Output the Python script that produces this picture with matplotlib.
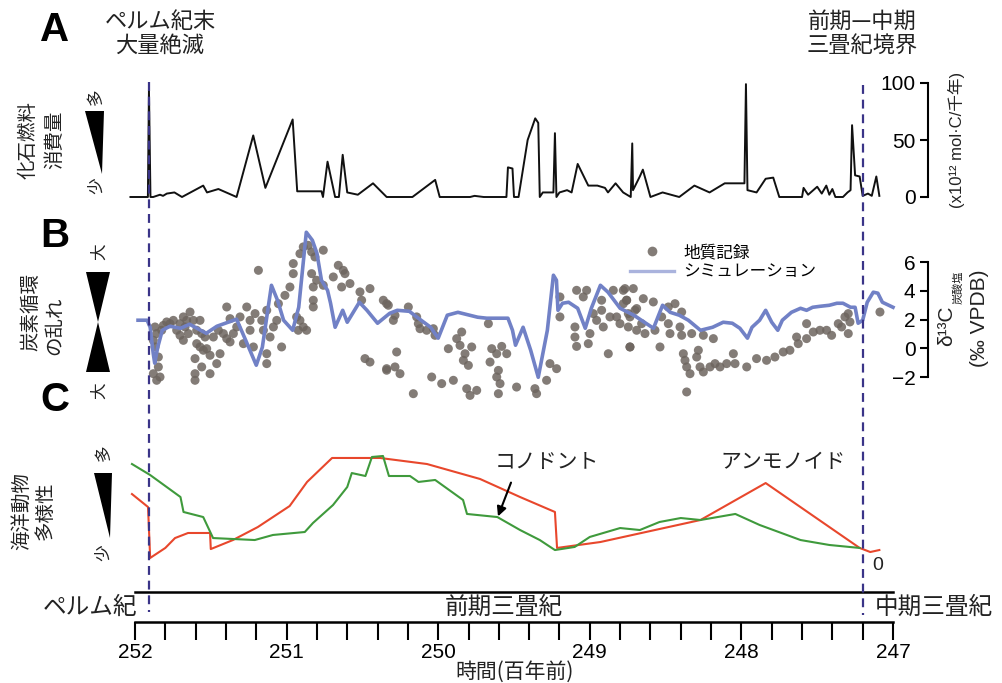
import matplotlib
matplotlib.use("Agg")
import matplotlib.pyplot as plt
from matplotlib.patches import Polygon
from matplotlib.lines import Line2D
import numpy as np

plt.rcParams["font.family"] = ["Liberation Sans", "Noto Sans CJK JP", "DejaVu Sans"]

# ============================================================
# Data (time in Ma)
# ============================================================

fuel_t = [252.03, 251.93, 251.915, 251.908, 251.898, 251.88, 251.835, 251.815, 251.79, 251.74,
          251.69, 251.55, 251.525, 251.45, 251.33, 251.22, 251.14, 250.96, 250.93, 250.77,
          250.76, 250.73, 250.68, 250.655, 250.63, 250.60, 250.53, 250.43, 250.34, 250.17,
          250.02, 249.99, 249.79, 249.76, 249.70, 249.55, 249.54, 249.51, 249.50, 249.47,
          249.41, 249.36, 249.34, 249.33, 249.31, 249.24, 249.23, 249.22, 249.20, 249.15,
          249.12, 249.08, 249.01, 248.95, 248.90, 248.88, 248.83, 248.78, 248.73, 248.72,
          248.715, 248.67, 248.65, 248.60, 248.52, 248.41, 248.31, 248.21, 248.11, 247.98,
          247.97, 247.96, 247.90, 247.84, 247.79, 247.75, 247.60, 247.59, 247.56, 247.50,
          247.47, 247.44, 247.42, 247.40, 247.38, 247.33, 247.30, 247.28, 247.27, 247.25,
          247.22, 247.20, 247.165, 247.14, 247.11, 247.09]
fuel_v = [0, 0, 0, 94, 0, 0, 2, 1, 3, 4,
          0, 10, 4, 7, 0, 54, 8, 68, 5, 5,
          0, 31, 0, 0, 37, 4, 2, 12, 0, 0,
          15, 0, 0, 1, 0, 0, 26, 25, 0, 0,
          50, 69, 65, 0, 4, 4, 56, 0, 4, 6,
          4, 29, 10, 10, 8, 4, 12, 4, 0, 47,
          6, 18, 24, 0, 4, 0, 10, 4, 12, 12,
          99, 6, 4, 16, 17, 0, 0, 8, 2, 9,
          3, 10, 2, 7, 0, 0, 4, 6, 63, 19,
          18, 1, 3, 1, 18, 1]

# geological record (time, d13C)
geo_points = [
    (251.868, 1.48), (251.857, 1.02), (251.879, 0.55), (251.868, 0.09), (251.846, -1.30),
    (251.879, -1.77), (251.857, -2.23), (251.835, -2.00), (251.846, -0.61), (251.824, 1.25),
    (251.813, 1.59), (251.791, 1.83), (251.769, 1.71), (251.747, 1.94), (251.725, 1.25),
    (251.703, 1.71), (251.681, 2.18), (251.659, 1.94), (251.637, 2.52), (251.670, 1.48),
    (251.648, 1.02), (251.681, 0.55), (251.703, 0.90), (251.615, 1.94), (251.593, 1.25),
    (251.571, 1.94), (251.560, 1.02), (251.538, 0.78), (251.593, 0.32), (251.571, 0.09),
    (251.549, -0.14), (251.527, -0.03), (251.505, -0.49), (251.604, -0.72), (251.604, -1.77),
    (251.604, -2.23), (251.560, -1.30), (251.505, -1.77), (251.461, -1.07), (251.439, -0.38),
    (251.483, 0.78), (251.450, 1.25), (251.417, 1.02), (251.395, 0.67), (251.373, 0.44),
    (251.351, 1.02), (251.395, 2.87), (251.373, 2.06), (251.329, 1.48), (251.307, 2.18),
    (251.285, 0.32), (251.263, 2.87), (251.241, 1.25), (251.219, 0.09), (251.186, 5.42),
    (251.241, 1.94), (251.208, 2.41), (251.164, 1.94), (251.153, 1.25), (251.131, 2.64),
    (251.109, 0.78), (251.087, 1.48), (251.131, -0.38), (251.131, -1.07), (251.065, 1.94),
    (251.033, 0.09), (251.054, 3.10), (251.011, 3.68), (250.978, 4.26), (250.956, 5.89),
    (250.956, 5.19), (250.934, 2.18), (250.923, 1.25), (250.912, 1.94), (250.890, 1.48),
    (250.868, 1.25), (250.912, 6.58), (250.890, 7.05), (250.857, 7.16), (250.835, 6.70),
    (250.813, 6.35), (250.758, 6.82), (250.835, 5.19), (250.824, 4.26), (250.824, 3.34),
    (250.824, 2.87), (250.802, 4.73), (250.758, 4.38), (250.692, 4.96), (250.659, 5.77),
    (250.626, 5.42), (250.615, 5.19), (250.637, 4.26), (250.582, 4.50), (250.516, 3.92),
    (250.450, 4.15), (250.505, 3.34), (250.483, -0.72), (250.450, -0.96), (250.362, 3.34),
    (250.340, -1.53), (250.340, 3.10),
    (250.329, 2.99), (250.285, 2.29), (250.296, 1.94), (250.197, 2.87), (250.142, 2.18),
    (250.131, 1.71), (250.120, 1.36), (250.076, 1.25), (250.032, 1.36), (250.021, 0.90),
    (250.274, -0.26), (250.285, -1.30), (250.340, -1.42), (250.252, -1.77), (250.164, -3.16),
    (250.043, -2.00), (249.977, -2.46), (249.900, -2.23), (249.933, -0.03), (249.878, 0.67),
    (249.845, 1.13), (249.779, 0.09), (249.856, 0.20), (249.823, -0.38), (249.834, -0.84),
    (249.801, -1.19), (249.812, -2.81), (249.790, -3.28), (249.746, -2.93), (249.669, 1.71),
    (249.647, -0.03), (249.614, -0.38), (249.581, 0.13), (249.548, -0.38), (249.658, -0.96),
    (249.603, -1.54), (249.614, -2.00), (249.592, -2.46), (249.603, -3.16), (249.483, -2.70),
    (249.362, -2.81), (249.351, -3.16), (249.285, -2.23), (249.263, -1.07), (249.219, -1.42),
    (249.197, 3.57), (249.197, 2.18), (249.087, 4.03), (249.098, 1.48), (249.098, 0.78),
    (249.087, 0.13), (249.043, 3.57), (249.021, 4.03), (249.010, 0.32), (248.977, 2.41),
    (248.999, 1.02), (248.955, 1.94), (248.922, 3.34), (248.922, 2.64), (248.911, 1.48),
    (248.878, -0.38), (248.867, 2.18), (248.845, 4.03), (248.823, 2.18), (248.801, 1.71),
    (248.779, 3.10), (248.779, 4.03), (248.757, 3.34), (248.746, 1.48), (248.735, 0.09),
    (248.735, 2.18), (248.713, 4.15), (248.702, 2.64), (248.691, 1.25),
    (248.768, 4.15), (248.757, 3.34), (248.746, 2.41), (248.691, 2.76), (248.647, 3.45),
    (248.658, 1.71), (248.636, 1.02), (248.581, 3.22), (248.570, 1.25), (248.526, 2.18),
    (248.482, 2.87), (248.438, 3.10), (248.482, 1.71), (248.471, 1.02), (248.405, 1.48),
    (248.394, 0.90), (248.537, 0.09), (248.735, 0.09), (248.394, 2.52), (248.328, 1.02),
    (248.251, 0.90), (248.185, 0.67), (248.383, -0.38), (248.372, -0.84), (248.361, -1.30),
    (248.339, -1.77), (248.295, -0.61), (248.284, -0.14), (248.273, -1.30), (248.251, -1.65),
    (248.207, -1.30), (248.174, -1.07), (248.141, -1.30), (248.097, -1.07), (248.053, -0.38),
    (248.042, -1.07), (248.361, -3.04), (247.965, -1.30), (247.900, -0.72), (247.834, -0.84),
    (247.779, -0.61), (247.724, -0.26), (247.680, -0.14), (247.636, 0.78), (247.625, 0.32),
    (247.570, 0.67), (247.526, 1.13), (247.482, 1.25), (247.438, 1.25), (247.405, 0.90),
    (247.361, 1.71), (247.339, 1.48), (247.317, 2.18), (247.295, 2.41), (247.295, 1.02),
    (247.284, 1.83), (247.570, 1.71), (247.086, 2.52),
]

# simulation (time, d13C)
sim_points = [
    (251.98, 1.95), (251.92, 1.95), (251.90, 1.46), (251.88, -0.35), (251.87, -1.04),
    (251.85, 0.07), (251.82, 1.25), (251.77, 1.53), (251.70, 1.39), (251.64, 1.67),
    (251.53, 1.04), (251.46, 1.53), (251.33, 2.02), (251.27, 0.56), (251.20, -1.18),
    (251.16, 0.07), (251.10, 4.38), (251.06, 3.34), (251.02, 1.95), (250.96, 1.25),
    (250.92, 2.85), (250.87, 8.07), (250.83, 7.51), (250.80, 6.61), (250.77, 4.73),
    (250.73, 4.03), (250.71, 3.13), (250.68, 1.46), (250.63, 2.64), (250.60, 1.81),
    (250.52, 3.20), (250.47, 2.64), (250.40, 1.74), (250.32, 2.43), (250.27, 2.64),
    (250.19, 2.57), (250.14, 2.16), (250.05, 1.46), (250.00, 0.70), (249.94, 2.30),
    (249.87, 2.50), (249.74, 2.16), (249.68, 2.09), (249.54, 2.09), (249.51, 1.25),
    (249.49, 0.21), (249.44, 1.46), (249.39, -0.14), (249.34, -2.02), (249.28, 1.25),
    (249.24, 5.08), (249.22, 4.73), (249.21, 2.64), (249.18, 3.13), (249.14, 3.20),
    (249.08, 2.78), (249.03, 1.39), (248.99, 2.78), (248.93, 4.38), (248.88, 3.90),
    (248.83, 3.20), (248.80, 2.78), (248.71, 2.30), (248.58, 1.39), (248.52, 2.99),
    (248.47, 2.50), (248.41, 2.30), (248.35, 1.95), (248.27, 1.25), (248.19, 1.46),
    (248.12, 1.81), (248.06, 1.74), (248.01, 1.39), (247.96, 0.70), (247.93, 1.46),
    (247.88, 1.95), (247.84, 2.64), (247.80, 1.81), (247.76, 1.25), (247.73, 1.95),
    (247.67, 2.50), (247.61, 2.78), (247.57, 2.64), (247.53, 2.85), (247.48, 2.92),
    (247.42, 2.99), (247.37, 3.13), (247.33, 3.13), (247.28, 2.85), (247.25, 2.85),
    (247.23, 1.74), (247.20, 1.95), (247.17, 3.20), (247.13, 3.90), (247.10, 3.83),
    (247.07, 3.20), (247.00, 2.85),
]

# marine diversity (relative units)
ammonoid_points = [
    (252.02, 64.5), (251.914, 52.7), (251.90, 6.4), (251.80, 15.5), (251.736, 24.5),
    (251.65, 29.1), (251.505, 29.1), (251.50, 14.5), (251.354, 22.7), (251.19, 34.5),
    (250.98, 53.6), (250.865, 75.5), (250.70, 97.3), (250.384, 97.3), (250.074, 91.8),
    (249.724, 78.2), (249.46, 61.8), (249.23, 48.2), (249.216, 15.5), (248.93, 20.9),
    (248.27, 40.9), (247.84, 74.5), (247.22, 15.5), (247.15, 11.8), (247.09, 13.6),
]
conodont_points = [
    (252.02, 91.8), (251.90, 81.8), (251.70, 61.8), (251.68, 48.2), (251.55, 43.6),
    (251.485, 24.5), (251.21, 22.7), (251.09, 27.3), (250.88, 30.0), (250.826, 38.2),
    (250.694, 54.5), (250.60, 70.9), (250.57, 83.6), (250.48, 80.9), (250.437, 98.2),
    (250.364, 99.1), (250.325, 80.9), (250.186, 80.9), (250.13, 75.5), (250.02, 77.3),
    (249.836, 59.1), (249.81, 46.4), (249.61, 43.6), (249.46, 31.8), (249.33, 22.7),
    (249.23, 13.6), (249.10, 16.4), (249.0, 25.5), (248.80, 33.6), (248.67, 31.8),
    (248.54, 39.1), (248.40, 42.7), (248.27, 40.9), (248.04, 46.4), (247.88, 36.4),
    (247.61, 22.7), (247.42, 18.2), (247.22, 15.5),
]

boundary_times = [251.91, 247.20]
minor_ticks = np.arange(247, 252.01, 0.2)

# ============================================================
# Layout helpers (pixel -> figure fraction)
# ============================================================

W, H = 1003, 683
X0, X1 = 135, 893
XLIM = (252, 247)
SPINE_POS = (928 - X0) / (X1 - X0)


def box(top, bottom):
    return [X0 / W, 1 - bottom / H, (X1 - X0) / W, (bottom - top) / H]


fig = plt.figure(figsize=(W / 100, H / 100), dpi=100)

axA = fig.add_axes(box(83, 197))
axB = fig.add_axes(box(262, 377))
axC = fig.add_axes(box(455, 565))
axT = fig.add_axes(box(592, 622))

for ax in (axA, axB, axC, axT):
    ax.set_xlim(*XLIM)
    ax.patch.set_alpha(0)
    for s in ("top", "right", "bottom", "left"):
        ax.spines[s].set_visible(False)
    ax.set_xticks([])
    ax.set_yticks([])

# ------------------------------------------------------------
# Panel A: fossil fuel consumption
# ------------------------------------------------------------

axA.plot(fuel_t, fuel_v, color="#111111", lw=1.4, clip_on=False)
axA.set_ylim(0, 100)

# ------------------------------------------------------------
# Panel B: carbon isotopes
# ------------------------------------------------------------

geo_t, geo_v = zip(*geo_points)
sim_t, sim_v = zip(*sim_points)

axB.scatter(geo_t, geo_v, s=42, color="#6d655f", alpha=0.85, edgecolors="none",
            clip_on=False, zorder=2)
axB.plot(sim_t, sim_v, color="#7181c6", lw=2.6, clip_on=False, zorder=3,
         solid_joinstyle="round")
axB.set_ylim(-2, 6)

for ax, ticks in ((axA, [0, 50, 100]), (axB, [-2, 0, 2, 4, 6])):
    ax.spines["left"].set_visible(True)
    ax.spines["left"].set_position(("axes", SPINE_POS))
    ax.spines["left"].set_linewidth(1.5)
    ax.set_yticks(ticks)
    ax.tick_params(axis="y", direction="out", length=6, width=1.5,
                   labelsize=15, pad=3)

leg_handles = [
    Line2D([], [], marker="o", ls="none", color="#6d655f", alpha=0.85,
           markersize=7, markeredgewidth=0),
    Line2D([], [], color="#aab3dd", lw=2.4),
]
fig.legend(leg_handles, ["地質記録", "シミュレーション"], loc="upper left",
           bbox_to_anchor=(622 / W, 1 - 236 / H), frameon=False, fontsize=12,
           handlelength=2.6, handletextpad=0.6, labelspacing=0.25, borderpad=0)

# ------------------------------------------------------------
# Panel C: marine diversity
# ------------------------------------------------------------

am_t, am_v = zip(*ammonoid_points)
co_t, co_v = zip(*conodont_points)
axC.plot(am_t, am_v, color="#e8472c", lw=1.5, clip_on=False)
axC.plot(co_t, co_v, color="#3f9a3c", lw=1.5, clip_on=False)
axC.set_ylim(0, 100)

# ------------------------------------------------------------
# Time axis with period bar
# ------------------------------------------------------------

axT.spines["bottom"].set_visible(True)
axT.spines["top"].set_visible(True)
axT.spines["bottom"].set_linewidth(1.8)
axT.spines["top"].set_linewidth(1.8)
axT.set_xticks(minor_ticks)
axT.set_xticklabels([f"{t:.0f}" if abs(t - round(t)) < 1e-6 else "" for t in minor_ticks],
                    family=["Liberation Sans Narrow", "Liberation Sans"], fontsize=15)
axT.tick_params(axis="x", direction="out", length=13, width=1.5, pad=2)
axT.set_xlim(*XLIM)

# ------------------------------------------------------------
# Overlay in pixel coordinates for annotations
# ------------------------------------------------------------

ov = fig.add_axes([0, 0, 1, 1])
ov.set_xlim(0, W)
ov.set_ylim(H, 0)
ov.axis("off")
ov.patch.set_alpha(0)

# boundary dashed lines share the time scale
ovt = fig.add_axes([X0 / W, 0, (X1 - X0) / W, 1])
ovt.set_xlim(*XLIM)
ovt.set_ylim(H, 0)
ovt.axis("off")
ovt.patch.set_alpha(0)
for t, (y0, y1) in zip(boundary_times, [(82, 612), (85, 615)]):
    ovt.plot([t, t], [y0, y1], color="#3a3488", lw=1.6, ls=(0, (4, 2.6)))

jp = ["Noto Sans CJK JP", "DejaVu Sans"]

for letter, y in (("A", 30), ("B", 236), ("C", 400)):
    ov.text(55, y, letter, fontsize=29, fontweight="bold", ha="center", va="center",
            family=["Liberation Sans", "DejaVu Sans"])

ov.text(160, 33, "ペルム紀末\n大量絶滅", fontsize=16, ha="center", va="center",
        family=jp, linespacing=1.05, color="#222222")
ov.text(862, 33, "前期—中期\n三畳紀境界", fontsize=16, ha="center", va="center",
        family=jp, linespacing=1.05, color="#222222")

# left side labels
side_labels = [
    (28, 140, "化石燃料"), (55, 140, "消費量"),
    (31, 312, "炭素循環"), (55, 326, "の乱れ"),
    (22, 511, "海洋動物"), (45, 511, "多様性"),
]
for x, y, s in side_labels:
    ov.text(x, y, s, rotation=90, fontsize=14, ha="center", va="center", family=jp,
            color="#222222")

for x, y, s in ((96, 97, "多"), (97, 186, "少"), (100, 252, "大"), (100, 391, "大"),
                (104, 453, "多"), (104, 553, "少")):
    ov.text(x, y, s, rotation=90, fontsize=12, ha="center", va="center", family=jp,
            color="#222222")

wedges = [
    [(85, 111), (104, 111), (102, 174)],
    [(86, 272), (110, 272), (98, 322)],
    [(98, 322), (86, 372), (110, 372)],
    [(94, 473), (112, 473), (110, 538)],
]
for pts in wedges:
    ov.add_patch(Polygon(pts, closed=True, color="black", lw=0))

# right side axis titles
ov.text(956, 140, "(x10¹² mol·C/千年)", rotation=90, fontsize=12, ha="center",
        va="center", color="#222222")
ov.text(947, 326, "δ¹³C", rotation=90, fontsize=15, ha="center", va="center",
        color="#222222")
ov.text(958, 287, "炭酸塩", rotation=90, fontsize=8, ha="center", va="center",
        family=jp, color="#222222")
ov.text(980, 318, "(‰ VPDB)", rotation=90, fontsize=15, ha="center", va="center",
        color="#222222")

ov.text(878, 565, "0", fontsize=14, ha="center", va="center", color="#222222")

# panel C annotations
ov.text(547, 462, "コノドント", fontsize=15, ha="center", va="center", family=jp,
        color="#222222")
ov.text(783, 462, "アンモノイド", fontsize=15, ha="center", va="center", family=jp,
        color="#222222")
ov.annotate("", xy=(497, 519), xytext=(512, 480),
            arrowprops=dict(arrowstyle="-|>", color="black", lw=1.5,
                            mutation_scale=14))

# period labels
ov.text(90, 607, "ペルム紀", fontsize=17, ha="center", va="center", family=jp,
        color="#222222")
ov.text(504, 607, "前期三畳紀", fontsize=17, ha="center", va="center", family=jp,
        color="#222222")
ov.text(934, 607, "中期三畳紀", fontsize=17, ha="center", va="center", family=jp,
        color="#222222")

ov.text(515, 672, "時間(百年前)", fontsize=15, ha="center", va="center", family=jp,
        color="#222222")

fig.savefig("out.png", dpi=100)
